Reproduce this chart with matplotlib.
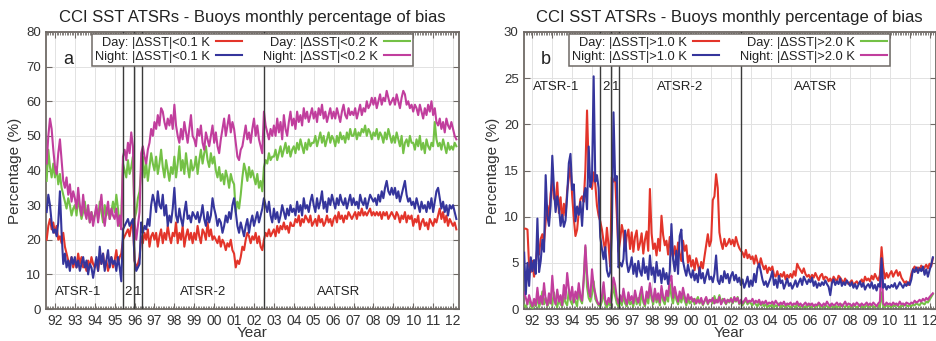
import numpy as np
import matplotlib
matplotlib.use("Agg")
import matplotlib.pyplot as plt
from matplotlib.ticker import MultipleLocator, FixedLocator

# ---------------- data (monthly, Aug 1991 - Mar 2012) ----------------
start_year = 1991 + 7 / 12.0

# Panel a : percentage of |dSST| < 0.1 K / < 0.2 K
day_01 = [
    [20, 24, 26, 23, 25],
    [22, 24, 20, 21, 19, 22, 18, 16, 14, 13, 15, 12],
    [14, 12, 16, 13, 15, 12, 13, 11, 14, 12, 15, 13],
    [12, 14, 11, 15, 13, 16, 12, 14, 11, 13, 15, 12],
    [14, 17, 13, 15, 16, 20, 21, 22, 23, 21, 24, 25],
    [14, 12, 13, 15, 21, 19, 22, 20, 23, 18, 21, 22],
    [20, 22, 18, 21, 23, 19, 22, 20, 24, 21, 19, 22],
    [21, 25, 19, 22, 20, 24, 18, 21, 23, 20, 22, 19],
    [22, 20, 24, 21, 19, 23, 22, 20, 25, 21, 23, 20],
    [21, 20, 19, 21, 18, 20, 19, 17, 19, 18, 20, 17],
    [16, 12, 14, 13, 15, 18, 17, 20, 22, 21, 19, 21],
    [20, 22, 19, 21, 18, 17, 20, 22, 21, 23, 21, 22],
    [23, 21, 24, 22, 24, 23, 25, 23, 24, 22, 25, 24],
    [24, 26, 25, 27, 24, 26, 25, 27, 26, 25, 27, 24],
    [25, 26, 24, 27, 25, 26, 24, 25, 27, 25, 26, 24],
    [26, 27, 25, 28, 26, 27, 25, 27, 26, 28, 27, 26],
    [27, 28, 26, 28, 27, 29, 27, 28, 27, 28, 29, 27],
    [28, 27, 28, 27, 28, 26, 28, 27, 28, 26, 27, 28],
    [27, 26, 28, 27, 25, 27, 26, 28, 25, 27, 26, 27],
    [24, 26, 25, 27, 23, 25, 26, 24, 25, 23, 26, 25],
    [24, 26, 25, 27, 29, 26, 28, 25, 27, 24, 26, 25],
    [24, 25, 23],
]
night_01 = [
    [28, 33, 30, 25, 22],
    [23, 21, 25, 34, 22, 13, 16, 12, 14, 11, 15, 13],
    [15, 12, 14, 11, 13, 15, 12, 14, 10, 13, 12, 9],
    [12, 15, 11, 18, 13, 16, 11, 14, 17, 12, 15, 13],
    [14, 11, 15, 12, 8, 23, 24, 25, 26, 24, 25, 26],
    [14, 11, 12, 13, 25, 22, 24, 23, 26, 24, 30, 33],
    [31, 28, 34, 30, 29, 33, 27, 30, 24, 27, 25, 29],
    [35, 27, 25, 29, 26, 24, 28, 31, 26, 27, 25, 28],
    [27, 26, 28, 25, 27, 30, 26, 24, 28, 25, 27, 32],
    [29, 27, 24, 26, 25, 22, 24, 27, 25, 28, 26, 30],
    [32, 28, 24, 22, 25, 23, 21, 24, 26, 22, 25, 27],
    [24, 26, 28, 25, 27, 29, 32, 30, 28, 31, 27, 25],
    [29, 26, 28, 25, 27, 30, 28, 26, 29, 27, 30, 28],
    [29, 27, 31, 28, 30, 27, 32, 29, 30, 28, 31, 33],
    [30, 28, 32, 29, 31, 34, 29, 31, 28, 32, 30, 33],
    [31, 29, 32, 30, 33, 31, 30, 32, 29, 31, 33, 30],
    [32, 30, 31, 29, 33, 31, 30, 32, 29, 31, 33, 32],
    [31, 32, 30, 33, 31, 34, 32, 35, 37, 34, 33, 35],
    [33, 35, 32, 34, 31, 33, 35, 37, 33, 31, 32, 30],
    [31, 29, 32, 30, 28, 31, 29, 30, 28, 31, 29, 32],
    [28, 31, 34, 35, 32, 29, 31, 28, 30, 27, 30, 29],
    [30, 28, 26],
]
day_02 = [
    [37, 46, 41, 38, 42],
    [38, 41, 36, 39, 35, 33, 31, 29, 32, 30, 27, 29],
    [30, 27, 32, 29, 26, 28, 31, 27, 29, 25, 28, 26],
    [27, 29, 26, 31, 28, 25, 30, 27, 29, 26, 28, 31],
    [28, 33, 29, 24, 27, 42, 40, 38, 43, 39, 41, 44],
    [26, 28, 32, 34, 40, 44, 38, 42, 37, 41, 45, 42],
    [40, 44, 39, 42, 46, 41, 38, 43, 40, 37, 41, 39],
    [44, 38, 42, 47, 40, 43, 39, 45, 41, 38, 43, 40],
    [41, 44, 39, 43, 46, 42, 45, 47, 43, 41, 45, 42],
    [44, 40, 38, 41, 37, 39, 36, 40, 38, 35, 39, 37],
    [36, 28, 31, 29, 33, 38, 42, 40, 37, 41, 38, 40],
    [38, 36, 39, 35, 37, 34, 41, 43, 42, 45, 43, 44],
    [44, 46, 43, 45, 47, 44, 46, 48, 45, 47, 44, 46],
    [47, 45, 48, 46, 49, 47, 45, 48, 46, 49, 47, 48],
    [48, 50, 47, 49, 51, 48, 50, 47, 49, 51, 48, 50],
    [49, 47, 50, 48, 51, 49, 50, 48, 51, 49, 52, 50],
    [50, 52, 49, 51, 50, 52, 51, 53, 50, 52, 51, 49],
    [51, 50, 52, 49, 51, 50, 48, 51, 49, 52, 50, 48],
    [50, 48, 51, 49, 47, 50, 45, 48, 49, 47, 50, 48],
    [48, 46, 49, 47, 50, 46, 48, 45, 49, 47, 46, 48],
    [47, 54, 49, 47, 48, 46, 49, 47, 45, 48, 46, 47],
    [46, 48, 47],
]
night_02 = [
    [42, 50, 55, 52, 46],
    [41, 39, 45, 49, 43, 37, 35, 38, 33, 36, 31, 34],
    [32, 29, 35, 30, 27, 33, 28, 26, 30, 25, 28, 24],
    [27, 30, 25, 29, 33, 27, 24, 28, 31, 26, 29, 27],
    [26, 29, 24, 27, 23, 44, 46, 43, 48, 45, 51, 47],
    [25, 20, 24, 28, 45, 47, 44, 42, 46, 48, 52, 50],
    [54, 52, 56, 53, 58, 57, 54, 52, 55, 53, 56, 52],
    [59, 53, 50, 48, 52, 49, 54, 51, 48, 52, 56, 50],
    [49, 47, 52, 50, 53, 48, 46, 51, 49, 47, 50, 53],
    [48, 51, 47, 45, 49, 52, 55, 50, 53, 56, 51, 54],
    [52, 48, 44, 43, 46, 47, 50, 53, 49, 51, 48, 52],
    [55, 50, 53, 49, 47, 45, 57, 53, 51, 49, 52, 50],
    [53, 50, 55, 51, 54, 49, 56, 52, 50, 54, 57, 53],
    [55, 52, 57, 54, 56, 53, 58, 55, 57, 54, 56, 58],
    [55, 57, 54, 58, 56, 59, 55, 57, 54, 56, 58, 55],
    [57, 55, 58, 56, 54, 57, 59, 56, 55, 58, 56, 57],
    [56, 58, 55, 57, 59, 56, 58, 57, 60, 58, 59, 61],
    [59, 61, 58, 60, 62, 59, 61, 60, 63, 61, 59, 60],
    [61, 59, 62, 60, 58, 61, 63, 62, 59, 60, 58, 59],
    [57, 59, 58, 56, 59, 57, 55, 58, 56, 59, 57, 60],
    [56, 58, 54, 53, 55, 52, 54, 51, 55, 53, 52, 54],
    [52, 50, 49],
]

# Panel b : percentage of |dSST| > 1.0 K / > 2.0 K
day_10 = [
    [8.7, 8.7, 8.6, 4.6, 4.0],
    [5.2, 3.5, 4.8, 6.8, 5.9, 7.6, 8.1, 7.2, 9.5, 11.2, 9.8, 12.5],
    [13.8, 12.0, 11.6, 13.7, 10.4, 12.1, 9.5, 11.4, 10.1, 12.8, 14.2, 15.6],
    [12.3, 9.8, 7.9, 8.6, 10.5, 11.9, 12.2, 11.6, 15.1, 21.5, 15.2, 13.9],
    [13.0, 14.8, 13.5, 11.2, 10.1, 9.5, 8.6, 7.3, 6.2, 8.8, 6.9, 4.6],
    [14.3, 13.8, 14.2, 10.3, 6.2, 7.4, 9.1, 8.2, 6.3, 7.9, 8.6, 6.5],
    [8.3, 6.2, 7.8, 8.5, 6.4, 7.1, 8.2, 6.0, 7.5, 8.4, 6.3, 13.0],
    [8.2, 6.5, 7.1, 5.8, 7.6, 6.3, 10.1, 8.0, 6.9, 7.4, 5.9, 7.8],
    [6.2, 5.6, 6.8, 5.4, 7.2, 6.0, 5.2, 7.4, 6.3, 6.9, 5.0, 5.8],
    [4.6, 5.3, 4.2, 5.5, 4.8, 3.9, 5.1, 4.4, 5.7, 6.9, 8.1, 6.8],
    [7.4, 11.8, 12.2, 14.6, 13.1, 8.3, 7.2, 6.5, 7.6, 6.8, 7.1, 7.6],
    [7.0, 7.5, 6.8, 7.8, 7.1, 6.6, 6.3, 6.1, 5.6, 6.4, 5.5, 5.9],
    [5.4, 5.7, 4.9, 5.8, 5.1, 4.6, 5.5, 4.8, 4.3, 4.7, 3.9, 4.5],
    [4.2, 4.6, 3.7, 3.5, 4.1, 3.3, 3.8, 3.5, 4.0, 3.2, 3.7, 3.4],
    [3.8, 3.4, 4.1, 3.6, 4.9, 4.5, 4.2, 3.9, 4.4, 3.8, 3.5, 3.7],
    [3.3, 3.7, 3.4, 3.9, 3.5, 3.1, 3.6, 3.8, 3.2, 3.5, 3.4, 3.0],
    [3.3, 2.9, 3.5, 3.2, 3.0, 3.6, 3.4, 3.1, 2.8, 3.3, 2.9, 2.7],
    [2.9, 3.1, 2.6, 2.8, 3.0, 2.7, 2.9, 3.2, 2.8, 3.5, 3.1, 3.3],
    [3.0, 3.6, 3.2, 3.8, 3.4, 3.1, 3.7, 6.7, 4.5, 3.3, 3.9, 3.4],
    [3.8, 4.1, 3.5, 3.9, 4.2, 3.6, 4.0, 3.4, 3.1, 2.8, 3.0, 2.6],
    [2.9, 3.8, 4.3, 4.6, 4.1, 4.5, 4.3, 4.7, 4.2, 4.5, 4.8, 4.4],
    [4.9, 4.6, 5.5],
]
night_10 = [
    [6.1, 1.6, 5.0, 2.5, 5.6],
    [4.1, 5.3, 3.8, 9.8, 4.0, 5.2, 7.5, 6.2, 14.5, 10.1, 9.0, 11.2],
    [16.6, 13.1, 10.5, 12.2, 11.0, 9.0, 10.2, 8.9, 9.6, 12.3, 15.8, 16.8],
    [12.9, 13.5, 9.5, 11.1, 10.2, 11.6, 9.0, 12.2, 13.1, 10.8, 17.6, 13.2],
    [14.0, 25.2, 13.8, 14.5, 13.1, 7.8, 6.5, 5.4, 6.7, 4.2, 3.5, 4.0],
    [8.5, 21.3, 13.9, 14.4, 4.5, 5.0, 4.6, 5.4, 8.5, 5.1, 4.0, 4.6],
    [5.6, 3.8, 4.9, 3.5, 5.2, 4.1, 3.6, 5.5, 3.9, 4.6, 3.2, 5.8],
    [3.7, 4.5, 2.9, 5.1, 3.6, 4.2, 2.8, 4.4, 3.2, 3.9, 2.7, 4.1],
    [9.2, 5.4, 4.1, 6.3, 3.8, 7.9, 8.6, 5.2, 4.3, 3.6, 4.8, 3.9],
    [3.4, 4.2, 3.1, 3.8, 2.9, 4.5, 3.3, 3.9, 2.8, 3.6, 4.3, 3.2],
    [3.5, 2.9, 3.8, 5.8, 3.1, 2.7, 3.6, 2.9, 4.1, 3.3, 3.8, 2.8],
    [3.6, 4.0, 3.1, 3.7, 2.9, 3.4, 2.6, 3.2, 2.3, 2.8, 3.5, 2.4],
    [3.1, 2.5, 3.8, 2.9, 4.4, 4.9, 4.1, 3.2, 2.6, 3.0, 2.4, 2.9],
    [3.4, 4.1, 2.6, 3.2, 2.3, 3.6, 2.8, 3.1, 2.2, 2.7, 3.3, 2.5],
    [2.8, 2.2, 2.6, 3.1, 2.4, 2.9, 3.3, 2.6, 3.5, 3.1, 2.7, 3.2],
    [2.9, 3.4, 2.5, 3.0, 2.3, 2.8, 2.5, 2.9, 2.6, 3.1, 2.7, 2.4],
    [1.5, 2.8, 3.2, 2.6, 3.0, 2.7, 3.3, 2.5, 2.9, 2.6, 3.1, 2.8],
    [2.5, 2.9, 2.3, 2.7, 2.2, 2.6, 3.0, 2.4, 2.8, 2.1, 2.5, 2.7],
    [2.3, 2.9, 2.2, 2.6, 2.0, 2.7, 2.4, 5.5, 2.3, 2.7, 2.1, 2.5],
    [2.3, 2.6, 2.4, 2.8, 2.2, 2.5, 2.9, 2.6, 2.3, 2.7, 2.5, 2.9],
    [2.6, 3.2, 4.3, 4.0, 4.5, 3.9, 4.4, 4.1, 4.6, 3.7, 4.3, 3.5],
    [4.2, 4.8, 5.6],
]
day_20 = [
    [0.4, 0.2, 0.8, 1.2, 0.3],
    [0.1, 0.6, 0.3, 1.4, 0.2, 0.8, 1.9, 0.5, 1.2, 0.3, 0.7, 1.5],
    [0.4, 1.8, 0.6, 0.2, 1.1, 0.5, 0.3, 1.3, 0.7, 0.4, 2.0, 0.9],
    [0.5, 1.4, 0.8, 0.3, 2.2, 1.0, 0.6, 3.1, 6.7, 2.4, 1.2, 0.8],
    [1.6, 3.0, 1.1, 0.7, 0.4, 0.3, 0.8, 1.9, 0.5, 0.2, 0.7, 0.4],
    [1.2, 2.6, 1.4, 0.6, 0.3, 0.9, 0.4, 1.5, 0.6, 0.3, 1.1, 0.5],
    [0.8, 0.3, 1.6, 0.5, 1.2, 0.4, 1.9, 0.7, 0.3, 1.4, 0.6, 2.5],
    [1.1, 0.5, 1.8, 0.7, 1.3, 0.4, 2.1, 0.9, 0.5, 1.6, 0.8, 2.7],
    [1.4, 0.6, 1.9, 1.0, 0.5, 1.3, 0.7, 1.6, 0.9, 0.4, 1.2, 0.6],
    [0.8, 1.1, 0.5, 0.9, 1.3, 0.6, 1.0, 0.4, 0.8, 1.2, 0.5, 0.9],
    [1.0, 0.6, 1.4, 0.7, 0.9, 1.5, 0.6, 1.1, 0.8, 0.5, 1.0, 0.7],
    [1.2, 0.6, 1.0, 0.8, 1.3, 0.5, 0.9, 0.4, 0.7, 1.0, 0.5, 0.8],
    [0.6, 0.4, 0.8, 0.5, 0.3, 0.7, 0.4, 0.6, 0.3, 0.5, 0.2, 0.4],
    [0.3, 0.5, 0.2, 0.4, 0.3, 0.6, 0.2, 0.4, 0.3, 0.2, 0.5, 0.3],
    [0.2, 0.4, 0.3, 0.2, 0.5, 0.3, 0.2, 0.4, 0.2, 0.3, 0.2, 0.4],
    [0.3, 0.2, 0.4, 0.2, 0.3, 0.5, 0.2, 0.3, 0.2, 0.4, 0.3, 0.2],
    [0.2, 0.3, 0.2, 0.4, 0.2, 0.3, 0.2, 0.5, 0.3, 0.2, 0.4, 0.2],
    [0.3, 0.2, 0.4, 0.3, 0.2, 0.3, 0.5, 0.2, 0.3, 0.2, 0.4, 0.3],
    [0.2, 0.4, 0.3, 0.2, 0.3, 0.4, 0.2, 1.8, 0.3, 0.2, 0.4, 0.3],
    [0.3, 0.2, 0.4, 0.3, 0.5, 0.3, 0.2, 0.4, 0.3, 0.5, 0.4, 0.3],
    [0.4, 0.3, 0.5, 0.4, 0.6, 0.5, 0.4, 0.7, 0.6, 0.5, 0.8, 0.7],
    [1.0, 1.3, 1.6],
]
night_20 = [
    [1.8, 1.2, 0.5, 1.5, 0.8],
    [0.3, 1.1, 0.4, 2.3, 0.6, 1.4, 0.5, 2.8, 1.0, 0.4, 1.7, 0.6],
    [3.6, 1.2, 0.5, 2.1, 0.8, 1.5, 0.4, 2.6, 1.1, 3.9, 2.2, 1.0],
    [2.4, 0.7, 1.9, 1.1, 2.8, 1.4, 0.9, 3.3, 6.9, 3.8, 2.0, 1.3],
    [4.3, 2.5, 1.7, 0.9, 0.5, 0.6, 1.4, 2.9, 1.0, 0.5, 1.2, 0.7],
    [2.1, 3.4, 2.6, 1.2, 0.6, 1.5, 0.8, 2.2, 1.1, 0.5, 1.8, 0.9],
    [1.4, 0.6, 2.0, 1.1, 0.7, 1.6, 2.4, 1.0, 0.5, 1.9, 1.2, 2.8],
    [1.5, 0.8, 2.2, 1.0, 1.7, 0.7, 2.5, 1.3, 0.9, 2.0, 1.4, 3.2],
    [3.6, 1.2, 2.4, 1.5, 0.8, 1.9, 1.1, 2.3, 1.4, 0.7, 1.6, 1.0],
    [1.3, 0.8, 1.1, 0.6, 1.0, 0.7, 1.2, 0.5, 0.9, 1.3, 0.6, 1.0],
    [0.8, 1.2, 0.6, 1.0, 0.7, 1.3, 0.5, 0.9, 1.1, 0.6, 1.0, 0.8],
    [1.1, 0.7, 1.3, 0.9, 1.2, 0.6, 1.0, 0.6, 0.9, 1.2, 0.7, 0.9],
    [0.8, 1.1, 0.6, 0.9, 0.7, 1.0, 0.5, 0.8, 0.6, 0.9, 0.5, 0.7],
    [0.6, 0.8, 0.5, 0.9, 0.6, 0.4, 0.7, 0.5, 0.8, 0.4, 0.6, 0.5],
    [0.7, 0.4, 0.6, 0.5, 0.8, 0.4, 0.6, 0.3, 0.5, 0.7, 0.4, 0.6],
    [0.4, 0.6, 0.3, 0.5, 0.4, 0.7, 0.5, 0.3, 0.6, 0.4, 0.8, 0.5],
    [0.3, 0.6, 0.4, 0.5, 0.7, 0.4, 0.6, 0.3, 0.5, 0.8, 0.4, 0.6],
    [0.5, 0.3, 0.6, 0.4, 0.7, 0.5, 0.3, 0.6, 0.4, 0.5, 0.7, 0.4],
    [0.6, 0.4, 0.7, 0.5, 0.3, 0.6, 0.8, 5.4, 0.6, 0.4, 0.7, 0.5],
    [0.6, 0.4, 0.7, 0.5, 0.6, 0.4, 0.8, 0.5, 0.6, 0.4, 0.7, 0.6],
    [0.5, 0.7, 0.6, 0.9, 0.7, 0.8, 1.0, 0.8, 1.1, 0.9, 1.2, 1.0],
    [1.3, 1.5, 1.7],
]

# sensor change dates and labels
sensor_changes = [1995.42, 1995.96, 1996.35, 2002.52]
seg_labels = ["ATSR-1", "2", "1", "ATSR-2", "AATSR"]
seg_label_x = [1993.17, 1995.68, 1996.17, 1999.45, 2006.25]

year_ticks = list(range(1992, 2013))
year_labels = ["%02d" % (y % 100) for y in year_ticks]

labels_a = ["Day: |\u0394SST|<0.1 K", "Night: |\u0394SST|<0.1 K",
            "Day: |\u0394SST|<0.2 K", "Night: |\u0394SST|<0.2 K"]
labels_b = ["Day: |\u0394SST|>1.0 K", "Night: |\u0394SST|>1.0 K",
            "Day: |\u0394SST|>2.0 K", "Night: |\u0394SST|>2.0 K"]
title = "CCI SST ATSRs - Buoys monthly percentage of bias"

# ---------------- styling ----------------
plt.rcParams['font.family'] = ['Liberation Sans', 'DejaVu Sans']
COL_RED = '#e3342a'
COL_BLUE = '#35359c'
COL_GREEN = '#74c146'
COL_MAG = '#c13e9d'
FRAME = '#6f6a66'


def flat(rows):
    return np.array([v for r in rows for v in r], dtype=float)


def times(n):
    return start_year + np.arange(n) / 12.0


fig = plt.figure(figsize=(9.36, 3.41), dpi=100)
ax_a = fig.add_axes([46 / 936, 1 - 309 / 341, 413 / 936, 277 / 341])
ax_b = fig.add_axes([523.5 / 936, 1 - 309 / 341, 412 / 936, 277 / 341])


def style(ax, ymax, ystep, panel):
    ax.set_xlim(1991.55, 2012.3)
    ax.set_ylim(0, ymax)
    ax.xaxis.set_major_locator(FixedLocator(year_ticks))
    ax.set_xticklabels(year_labels)
    ax.xaxis.set_minor_locator(MultipleLocator(1 / 12.0))
    ax.yaxis.set_major_locator(MultipleLocator(ystep))
    ax.grid(True, which='major', color='#e2e2e2', lw=0.7, zorder=0)
    ax.set_axisbelow(True)
    ax.tick_params(which='both', direction='in', top=True, right=True,
                   color=FRAME)
    ax.tick_params(which='major', length=4, width=0.8)
    ax.tick_params(which='minor', length=2, width=0.6)
    ax.tick_params(axis='x', labelsize=10, pad=3.5, colors='#333333')
    ax.tick_params(axis='y', labelsize=9.5, pad=3.5, colors='#333333')
    ax.tick_params(which='both', color=FRAME)
    for s in ax.spines.values():
        s.set_color(FRAME)
        s.set_linewidth(1.3)
    ax.set_title(title, fontsize=12, pad=7, color='#222222')
    ax.set_xlabel("Year", fontsize=11, labelpad=-1, color='#333333')
    ax.set_ylabel("Percentage (%)", fontsize=11, labelpad=3,
                  color='#333333')
    for xc in sensor_changes:
        ax.axvline(xc, color='#3a3a3a', lw=1.0, zorder=4)
    ax.text(0.055, 0.90, panel, transform=ax.transAxes, fontsize=13,
            ha='center', va='center', color='#222222')


def draw(ax, series, labels):
    cols = [COL_RED, COL_BLUE, COL_GREEN, COL_MAG]
    order = [2, 3, 0, 1]
    handles = [None] * 4
    for i in order:
        y = flat(series[i])
        h, = ax.plot(times(len(y)), y, color=cols[i], lw=1.5, zorder=3,
                     label=labels[i])
        handles[i] = h
    leg = ax.legend([handles[0], handles[1], handles[2], handles[3]],
                    [labels[0], labels[1], labels[2], labels[3]],
                    ncol=2, markerfirst=False, loc='upper center',
                    bbox_to_anchor=(0.5, 0.994), borderaxespad=0,
                    fontsize=9.3, frameon=True, fancybox=False,
                    framealpha=1, edgecolor=FRAME, handlelength=2.0,
                    handletextpad=0.5, columnspacing=1.6, borderpad=0.25,
                    labelspacing=0.15)
    leg.get_frame().set_linewidth(1.1)
    leg.set_zorder(6)
    for t in leg.get_texts():
        t.set_color('#222222')


style(ax_a, 80, 10, 'a')
draw(ax_a, [day_01, night_01, day_02, night_02], labels_a)
for lab, xc in zip(seg_labels, seg_label_x):
    ax_a.text(xc, 0.062, lab, transform=ax_a.get_xaxis_transform(),
              fontsize=9.5, ha='center', va='center', color='#222222',
              zorder=5)

style(ax_b, 30, 5, 'b')
draw(ax_b, [day_10, night_10, day_20, night_20], labels_b)
for lab, xc in zip(seg_labels, seg_label_x):
    ax_b.text(xc, 0.80, lab, transform=ax_b.get_xaxis_transform(),
              fontsize=9.5, ha='center', va='center', color='#222222',
              zorder=5)

fig.savefig("out.png", dpi=100)
